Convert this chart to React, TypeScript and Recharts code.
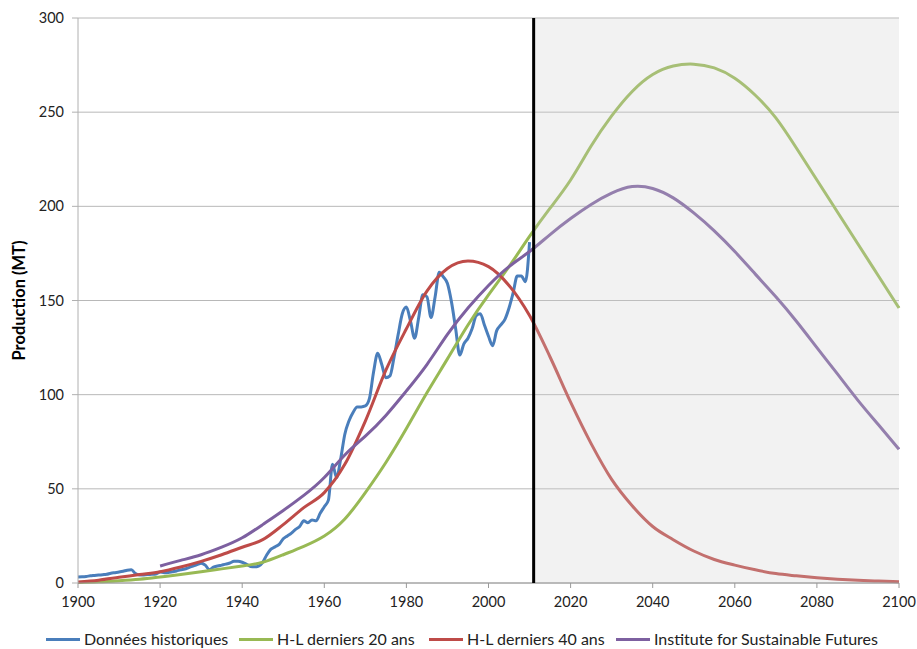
import { LineChart, Line, XAxis, YAxis, CartesianGrid, Legend, ReferenceArea, ReferenceLine } from 'recharts';

// Données historiques, une valeur par an à partir de 1900 (MT)
const HIST_START = 1900;
const historique = [
  3.2, 3.3, 3.5, 3.8, 4.0, 4.2, 4.4, 4.6, 5.2, 5.5,
  5.8, 6.2, 6.8, 7.0, 5.0, 4.2, 4.3, 4.5, 4.6, 4.8,
  5.8, 5.5, 5.6, 6.0, 6.4, 7.0, 7.4, 8.2, 9.0, 9.8,
  10.5, 9.5, 7.0, 8.4, 9.0, 9.5, 10.0, 10.6, 11.5, 11.5,
  11.0, 10.0, 8.8, 8.6, 9.0, 11.0, 15.0, 18.0, 19.2, 20.5,
  23.5, 25.0, 26.5, 28.5, 30.0, 33.0, 32.0, 33.5, 33.0, 37.0,
  40.5, 44.0, 63.0, 56.0, 66.0, 79.0, 86.0, 90.5, 93.5, 93.5,
  94.0, 98.0, 112.0, 122.0, 116.0, 109.0, 110.0, 120.0, 132.0, 143.0,
  146.5, 139.0, 130.0, 141.0, 153.0, 152.0, 141.0, 152.0, 165.0, 162.5,
  159.0, 149.0, 135.0, 121.0, 127.0, 130.0, 135.0, 142.0, 143.0, 137.0,
  131.0, 126.0, 134.0, 137.0, 140.0, 146.0, 154.0, 163.0, 163.0, 160.0,
  181.0,
];

// courbes de Hubbert / projections, tous les 5 ans
const projYears = [
  1900, 1905, 1910, 1915, 1920, 1925, 1930, 1935, 1940, 1945,
  1950, 1955, 1960, 1965, 1970, 1975, 1980, 1985, 1990, 1995,
  2000, 2005, 2010, 2015, 2020, 2025, 2030, 2035, 2040, 2045,
  2050, 2055, 2060, 2065, 2070, 2075, 2080, 2085, 2090, 2095, 2100,
];
const hl20 = [
  0.3, 0.6, 1.2, 2.0, 3.2, 4.5, 6.0, 7.5, 9.0, 11.0,
  15.0, 19.5, 25.0, 34.0, 48.0, 64.0, 82.0, 101.0, 119.0, 137.0,
  153.0, 168.0, 184.0, 199.0, 214.0, 232.0, 248.0, 261.0, 270.0, 274.5,
  275.5, 273.5, 268.0, 259.0, 247.0, 231.0, 214.0, 197.0, 180.0, 163.0, 146.0,
];
const hl40 = [
  0.5, 1.5, 3.0, 4.5, 6.0, 8.5, 11.5, 15.0, 19.0, 23.0,
  31.0, 40.0, 48.0, 63.0, 86.0, 113.0, 135.0, 155.0, 167.0, 171.0,
  168.0, 158.0, 142.0, 120.0, 96.0, 74.0, 55.0, 41.0, 30.0, 23.0,
  17.0, 12.5, 9.5, 7.0, 5.0, 3.8, 2.8, 2.0, 1.4, 1.0, 0.7,
];
const isf = [
  null, null, null, null, 9.0, 12.0, 15.0, 19.0, 24.0, 31.0,
  38.5, 46.5, 56.0, 68.0, 78.0, 89.0, 102.0, 116.0, 132.0, 146.0,
  158.0, 168.0, 176.0, 185.0, 193.5, 201.0, 207.0, 210.5, 209.5, 204.5,
  196.5, 187.0, 176.0, 164.0, 152.0, 139.0, 125.0, 111.0, 97.0, 84.0, 71.0,
];

const yTicks = [0, 50, 100, 150, 200, 250, 300];
const xTicks = [1900, 1920, 1940, 1960, 1980, 2000, 2020, 2040, 2060, 2080, 2100];
const ANNEE_ACTUELLE = 2011;

const histData = historique.map((v, i) => ({ year: HIST_START + i, v }));
const toSeries = (vals: (number | null)[]) => projYears.map((year, i) => ({ year, v: vals[i] }));

const series = [
  { name: 'Données historiques', color: '#4a7ebb', data: histData, curve: 'monotone', left: 46 },
  { name: 'H-L derniers 20 ans', color: '#98b954', data: toSeries(hl20), curve: 'natural', left: 239 },
  { name: 'H-L derniers 40 ans', color: '#be4b48', data: toSeries(hl40), curve: 'monotone', left: 429 },
  { name: 'Institute for Sustainable Futures', color: '#7d60a0', data: toSeries(isf), curve: 'natural', left: 616 },
];

const FONT = "Lato, 'Open Sans', sans-serif";

const renderLegend = () => (
  <div style={{ position: 'relative', height: 30, fontFamily: FONT, fontSize: 16, color: '#222' }}>
    {series.map((s) => (
      <div key={s.name} style={{ position: 'absolute', left: s.left, top: 11, display: 'flex', alignItems: 'center', whiteSpace: 'nowrap', lineHeight: '18px' }}>
        <span style={{ display: 'inline-block', width: 34, height: 3, background: s.color, marginRight: 4 }} />
        <span>{s.name}</span>
      </div>
    ))}
  </div>
);

export default function App() {
  return (
    <div style={{ position: 'absolute', left: 0, top: 0, background: '#fff' }}>
      <LineChart width={917} height={649} margin={{ top: 18, right: 18, bottom: 0, left: 0 }}>
        <CartesianGrid vertical={false} stroke="#b8b8b8" />
        <XAxis
          type="number"
          dataKey="year"
          domain={[1900, 2100]}
          ticks={xTicks}
          allowDuplicatedCategory={false}
          height={36}
          tickSize={5}
          tickMargin={9}
          stroke="#9a9a9a"
          tick={{ fill: '#222', fontSize: 14.5, fontFamily: FONT }}
        />
        <YAxis
          type="number"
          domain={[0, 300]}
          ticks={yTicks}
          width={78}
          tickSize={6}
          tickMargin={8}
          stroke="#b0b0b0"
          tick={{ fill: '#222', fontSize: 14.5, fontFamily: FONT }}
          label={{ value: 'Production (MT)', angle: -90, position: 'center', dx: -20, style: { fontWeight: 'bold', fontSize: 16.5, fontFamily: FONT, fill: '#000' } }}
        />
        {series.map((s) => (
          <Line
            key={s.name}
            data={s.data}
            dataKey="v"
            name={s.name}
            type={s.curve as 'monotone' | 'natural'}
            stroke={s.color}
            strokeWidth={3}
            dot={false}
            connectNulls={false}
            isAnimationActive={false}
          />
        ))}
        <ReferenceArea x1={ANNEE_ACTUELLE} x2={2100} y1={0} y2={300} fill="#d0d0d0" fillOpacity={0.28} stroke="none" zIndex={450} />
        <ReferenceLine x={ANNEE_ACTUELLE} stroke="#000" strokeWidth={3} zIndex={500} />
        <Legend verticalAlign="bottom" height={30} content={renderLegend} />
      </LineChart>
    </div>
  );
}
